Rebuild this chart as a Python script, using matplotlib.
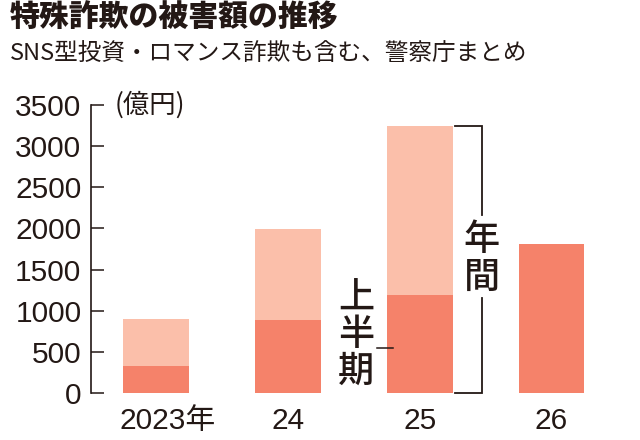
import matplotlib
matplotlib.use("Agg")
import matplotlib.pyplot as plt
from matplotlib.transforms import offset_copy

# ---- data ----
years = ["2023年", "24", "25", "26"]
first_half = [330, 890, 1190, 1810]          # 上半期 (億円)
annual = [900, 1990, 3250, None]              # 年間 (億円)
yticks = [0, 500, 1000, 1500, 2000, 2500, 3000, 3500]
title = "特殊詐欺の被害額の推移"
subtitle = "SNS型投資・ロマンス詐欺も含む、警察庁まとめ"
unit = "(億円)"

LIGHT = "#FBBFAA"
DARK = "#F5826A"
INK = "#231815"
CJK = ["Noto Sans CJK JP", "DejaVu Sans"]
NUM = ["Liberation Sans", "Noto Sans CJK JP"]

W, H = 640, 440
fig = plt.figure(figsize=(W / 100, H / 100), dpi=100)
ax = fig.add_axes([90.5 / W, 47 / H, 526.8 / W, 288 / H])

xs = list(range(len(years)))
ann_x = [i for i, a in enumerate(annual) if a is not None]
ann_v = [a for a in annual if a is not None]
ax.bar(ann_x, ann_v, width=0.5, color=LIGHT, linewidth=0)
ax.bar(xs, first_half, width=0.5, color=DARK, linewidth=0)

ax.set_xlim(-0.5, 3.5)
ax.set_ylim(0, 3500)
for s in ["top", "right", "bottom"]:
    ax.spines[s].set_visible(False)
ax.spines["left"].set_color(INK)
ax.spines["left"].set_linewidth(1.2)
ax.set_yticks(yticks)
ax.set_yticklabels([str(v) for v in yticks])
ax.tick_params(axis="y", direction="in", length=9.5, width=1.1, color=INK,
               pad=6.5, labelsize=21.5, labelcolor=INK)
for lab in ax.get_yticklabels():
    lab.set_fontfamily(NUM)
ax.set_xticks([])

# x labels
for i, lab in enumerate(years):
    dx = 11.5 if lab.endswith("年") else 0
    tr = offset_copy(ax.get_xaxis_transform(), fig=fig, x=dx, y=-14, units="dots")
    ax.text(i, 0, lab, transform=tr, ha="center", va="top", fontsize=21.5,
            family=NUM, color=INK)

# unit
tr = offset_copy(ax.get_yaxis_transform(), fig=fig, x=24, y=0, units="dots")
ax.text(0, 3500, unit, transform=tr, ha="left", va="center", fontsize=19,
        family=CJK, color=INK)

# bracket for 年間 (2025)
bx, bx0 = 2.47, 2.27
top = annual[2]
ax.plot([bx0, bx, bx], [top, top, 2165], color=INK, lw=1.3, clip_on=False,
        solid_joinstyle="miter")
ax.plot([bx, bx, bx0], [1155, 0, 0], color=INK, lw=1.3, clip_on=False,
        solid_joinstyle="miter")
for ch, yv in zip("年間", [1860, 1400]):
    ax.text(bx, yv, ch, ha="center", va="center", fontsize=26, weight="medium",
            family=CJK, color=INK)

# 上半期 label
for ch, yv in zip("上半期", [1140, 700, 255]):
    ax.text(1.515, yv, ch, ha="center", va="center", fontsize=26, weight="medium",
            family=CJK, color=INK)
ax.plot([1.675, 1.80], [550, 550], color=INK, lw=1.1)

# titles
fig.text(10 / W, 1 - 2 / H, title, ha="left", va="top", fontsize=21.5,
         weight="heavy", family=CJK, color=INK)
fig.text(10 / W, 1 - 43 / H, subtitle, ha="left", va="top", fontsize=17,
         family=CJK, color=INK)

fig.savefig("out.png", dpi=100, facecolor="white")
